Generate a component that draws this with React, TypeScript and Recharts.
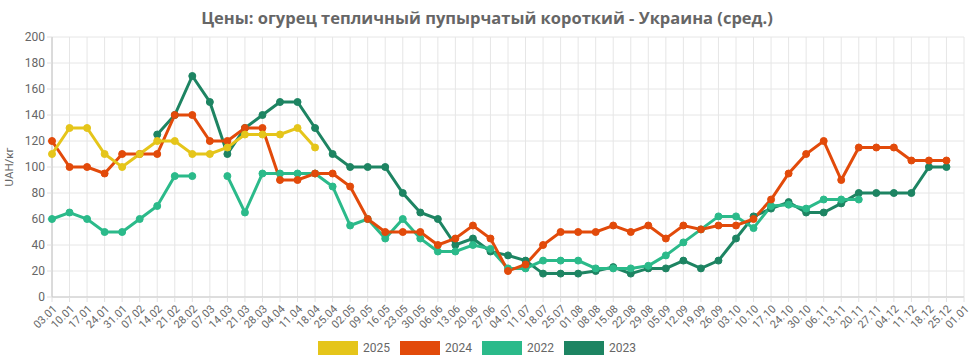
import React from 'react';
import { LineChart, Line, XAxis, YAxis, CartesianGrid, Legend } from 'recharts';

// weekly dates
const weeks = [
    '03.01', '10.01', '17.01', '24.01', '31.01', '07.02', '14.02', '21.02', '28.02', '07.03',
    '14.03', '21.03', '28.03', '04.04', '11.04', '18.04', '25.04', '02.05', '09.05', '16.05',
    '23.05', '30.05', '06.06', '13.06', '20.06', '27.06', '04.07', '11.07', '18.07', '25.07',
    '01.08', '08.08', '15.08', '22.08', '29.08', '05.09', '12.09', '19.09', '26.09', '03.10',
    '10.10', '17.10', '24.10', '30.10', '06.11', '13.11', '20.11', '27.11', '04.12', '11.12',
    '18.12', '25.12', '01.01',
];

const prices2025 = [110, 130, 130, 110, 100, 110, 120, 120, 110, 110, 115, 125, 125, 125, 130, 115];

const prices2024 = [
    120, 100, 100, 95, 110, 110, 110, 140, 140, 120, 120, 130, 130, 90, 90, 95, 95, 85, 60, 50,
    50, 50, 40, 45, 55, 45, 20, 25, 40, 50, 50, 50, 55, 50, 55, 45, 55, 52, 55, 55,
    60, 75, 95, 110, 120, 90, 115, 115, 115, 105, 105, 105, null,
];

const prices2022 = [
    60, 65, 60, 50, 50, 60, 70, 93, 93, null, 93, 65, 95, 95, 95, 95, 85, 55, 60, 45,
    60, 45, 35, 35, 40, 37, 22, 22, 28, 28, 28, 22, 22, 22, 24, 32, 42, 52, 62, 62,
    53, 70, 71, 68, 75, 75, 75,
];

const prices2023 = [
    null, null, null, null, null, null, 125, 140, 170, 150, 110, 130, 140, 150, 150, 130, 110, 100, 100, 100,
    80, 65, 60, 40, 45, 35, 32, 28, 18, 18, 18, 20, 23, 18, 22, 22, 28, 22, 28, 45,
    62, 68, 73, 65, 65, 72, 80, 80, 80, 80, 100, 100, null,
];

const yTicks = [0, 20, 40, 60, 80, 100, 120, 140, 160, 180, 200];

const series = [
    { key: '2025', color: '#E5C51A' },
    { key: '2024', color: '#E24A0A' },
    { key: '2022', color: '#2BBA8A' },
    { key: '2023', color: '#1D8462' },
];

const chartData = weeks.map((week, i) => ({
    week,
    '2025': prices2025[i] ?? null,
    '2024': prices2024[i] ?? null,
    '2022': prices2022[i] ?? null,
    '2023': prices2023[i] ?? null,
}));

const gray = '#666';

const LegendBox = () => (
    <div style={{ display: 'flex', justifyContent: 'center', alignItems: 'center', height: 26, fontFamily: 'Roboto, sans-serif', fontSize: 12, color: gray }}>
        {series.map(s => (
            <div key={s.key} style={{ display: 'flex', alignItems: 'center', marginRight: 10 }}>
                <span style={{ display: 'inline-block', width: 38, height: 12, background: s.color, border: `1px solid ${s.color}`, marginRight: 5 }} />
                <span>{s.key}</span>
            </div>
        ))}
    </div>
);

const App: React.FC = () => {
    // draw order: last series on top, so 2025 goes last
    const drawOrder = ['2023', '2022', '2024', '2025'];

    return (
        <div style={{ position: 'absolute', left: 0, top: 0, width: 974, height: 361, background: '#fff' }}>
            <div style={{ position: 'absolute', top: 6, left: 0, width: 974, textAlign: 'center', fontFamily: '"Open Sans", sans-serif', fontWeight: 700, fontSize: 16.5, color: gray }}>
                Цены: огурец тепличный пупырчатый короткий - Украина (сред.)
            </div>
            <LineChart width={974} height={361} data={chartData} margin={{ top: 37, right: 10, left: 0, bottom: 0 }}>
                <CartesianGrid stroke="#e6e6e6" vertical={true} />
                <XAxis
                    dataKey="week"
                    interval={0}
                    height={38}
                    angle={-45}
                    textAnchor="end"
                    tick={{ fontSize: 11, fill: gray, fontFamily: 'Roboto, sans-serif' }}
                    tickSize={5}
                    tickLine={{ stroke: '#e0e0e0' }}
                    axisLine={{ stroke: '#c8c8c8' }}
                />
                <YAxis
                    domain={[0, 200]}
                    ticks={yTicks}
                    width={52}
                    tick={{ fontSize: 12, fill: gray, fontFamily: 'Roboto, sans-serif' }}
                    tickSize={5}
                    tickLine={{ stroke: '#e0e0e0' }}
                    axisLine={{ stroke: '#c8c8c8' }}
                    label={{ value: 'UAH/кг', angle: -90, position: 'insideLeft', offset: 9, style: { fontSize: 11.5, fill: gray, fontFamily: 'Roboto, sans-serif', textAnchor: 'middle' } }}
                />
                <Legend verticalAlign="bottom" content={() => <LegendBox />} />
                {drawOrder.map(k => {
                    const s = series.find(x => x.key === k)!;
                    return (
                        <Line
                            key={k}
                            type="linear"
                            dataKey={k}
                            stroke={s.color}
                            strokeWidth={3}
                            dot={{ r: 3.5, fill: s.color, stroke: s.color, strokeWidth: 1 }}
                            activeDot={false}
                            connectNulls={false}
                            isAnimationActive={false}
                        />
                    );
                })}
            </LineChart>
        </div>
    );
};

export default App;
